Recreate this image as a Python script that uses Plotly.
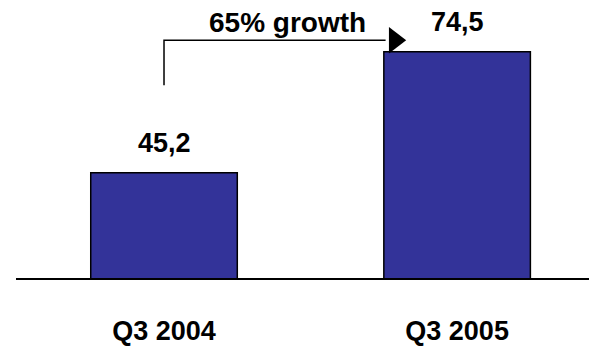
import plotly.graph_objects as go

categories = ["Q3 2004", "Q3 2005"]
values = [45.2, 74.5]
value_labels = ["45,2", "74,5"]
growth_label = "65% growth"

FONT = "Liberation Sans, Arial, sans-serif"
BAR_COLOR = "#333399"

y_min = 19.65
px_per_unit = 4.208
plot_h = 283.5 - 8
y_max = y_min + plot_h / px_per_unit

xi = list(range(len(categories)))

fig = go.Figure()
fig.add_trace(go.Bar(
    x=xi, y=values, width=0.5,
    marker=dict(color=BAR_COLOR, line=dict(color="black", width=1.5)),
    hoverinfo="skip", showlegend=False,
))

# growth arrow path
arrow_y_low = 66.4
arrow_y_top = 77.3
head_base_x = 0.756
fig.add_trace(go.Scatter(
    x=[xi[0], xi[0], head_base_x], y=[arrow_y_low, arrow_y_top, arrow_y_top],
    mode="lines", line=dict(color="black", width=1.5),
    hoverinfo="skip", showlegend=False, cliponaxis=False,
))
fig.add_trace(go.Scatter(
    x=[0.787], y=[arrow_y_top], mode="markers",
    marker=dict(symbol="triangle-right", size=23, color="black"),
    hoverinfo="skip", showlegend=False, cliponaxis=False,
))

annotations = []
for x, v, t in zip(xi, values, value_labels):
    annotations.append(dict(
        x=x, y=v, text=f"<b>{t}</b>", showarrow=False, yanchor="middle",
        yshift=30, font=dict(family=FONT, size=27, color="black"),
    ))
annotations.append(dict(
    x=0.42, y=81.6, text=f"<b>{growth_label}</b>", showarrow=False,
    yanchor="middle", font=dict(family=FONT, size=28, color="black"),
))

fig.update_layout(
    width=589, height=346,
    margin=dict(l=16, r=0, t=8, b=346 - 283.5),
    paper_bgcolor="white", plot_bgcolor="white",
    bargap=0.5,
    annotations=annotations,
    xaxis=dict(
        range=[-0.505, 1.45], tickvals=xi,
        ticktext=[f"<b>{c}</b>" for c in categories],
        tickfont=dict(family=FONT, size=27, color="black"),
        showline=True, linecolor="black", linewidth=2,
        showgrid=False, zeroline=False, ticks="",
        ticklabelstandoff=28,
    ),
    yaxis=dict(range=[y_min, y_max], visible=False, showgrid=False,
               zeroline=False),
)

fig.write_html("out.html")
